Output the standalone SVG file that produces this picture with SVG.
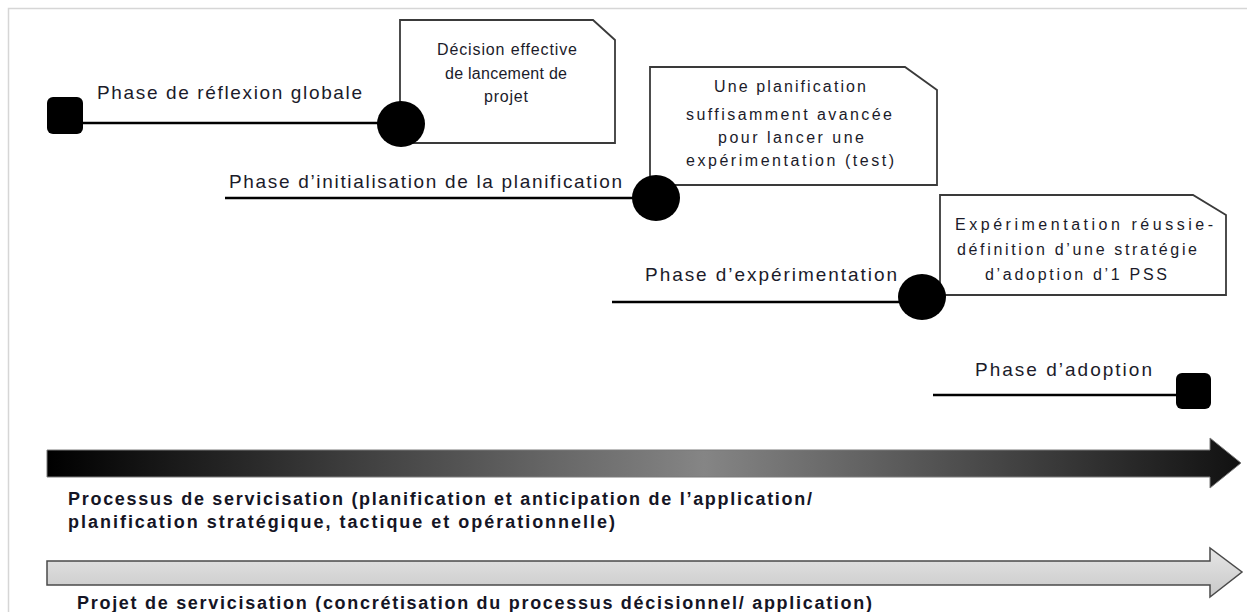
<svg xmlns="http://www.w3.org/2000/svg" width="1247" height="612" viewBox="0 0 1247 612">
<defs>
<style>
.t{font-family:"Liberation Sans",Arial,sans-serif;font-size:19px;fill:#1b1b2a}
.bt{font-family:"Liberation Sans",Arial,sans-serif;font-size:16px;fill:#1b1b2a}
.b{font-family:"Liberation Sans",Arial,sans-serif;font-size:18px;font-weight:bold;fill:#151525}
.ln{stroke:#000;stroke-width:2.5;fill:none}
.call{fill:#fff;stroke:#3a3a3a;stroke-width:1.8}
.dot{fill:#000}
.sq{fill:#000}
</style>
<linearGradient id="gDark" x1="0" y1="0" x2="1" y2="0">
<stop offset="0" stop-color="#000"/>
<stop offset="0.55" stop-color="#858585"/>
<stop offset="1" stop-color="#111"/>
</linearGradient>
<linearGradient id="gLight" x1="0" y1="0" x2="0" y2="1">
<stop offset="0" stop-color="#e6e6e6"/>
<stop offset="1" stop-color="#c8c8c8"/>
</linearGradient>
</defs>
<rect width="1247" height="612" fill="#fff"/>
<path d="M8.5 612 V8.5 H1247" fill="none" stroke="#d6d6d6" stroke-width="1.5"/>

<g id="connectors">
<line class="ln" x1="80" y1="123" x2="385" y2="123"/>
<line class="ln" x1="225" y1="198" x2="640" y2="198"/>
<line class="ln" x1="612" y1="302" x2="905" y2="302"/>
<line class="ln" x1="933" y1="395" x2="1180" y2="395"/>
</g>

<g id="phase-reflexion">
<rect class="sq" x="47" y="97" width="36" height="37" rx="6"/>
<text class="t" x="97" y="99" textLength="265" lengthAdjust="spacing">Phase de réflexion globale</text>
</g>

<g id="decision-lancement">
<path class="call" d="M400 20 H593 L615 40 V143 H400 Z"/>
<ellipse class="dot" cx="401" cy="124" rx="24" ry="23"/>
<text class="bt" x="437" y="55" textLength="140" lengthAdjust="spacing">Décision effective</text>
<text class="bt" x="445" y="79" textLength="122" lengthAdjust="spacing">de lancement de</text>
<text class="bt" x="484" y="102" textLength="44" lengthAdjust="spacing">projet</text>
</g>

<g id="phase-initialisation">
<text class="t" x="229" y="188" textLength="393" lengthAdjust="spacing">Phase d’initialisation de la planification</text>
</g>

<g id="planification-avancee">
<path class="call" d="M650 67 H905 L937 90 V185 H650 Z"/>
<ellipse class="dot" cx="656" cy="198" rx="24" ry="23"/>
<text class="bt" x="714" y="92" textLength="152" lengthAdjust="spacing">Une planification</text>
<text class="bt" x="686" y="120" textLength="206" lengthAdjust="spacing">suffisamment avancée</text>
<text class="bt" x="718" y="143" textLength="146" lengthAdjust="spacing">pour lancer une</text>
<text class="bt" x="686" y="166" textLength="208" lengthAdjust="spacing">expérimentation (test)</text>
</g>

<g id="phase-experimentation">
<text class="t" x="645" y="281" textLength="252" lengthAdjust="spacing">Phase d’expérimentation</text>
</g>

<g id="experimentation-reussie">
<path class="call" d="M940 195 H1193 L1226 215 V295 H940 Z"/>
<ellipse class="dot" cx="922" cy="297" rx="24" ry="23"/>
<text class="bt" x="955" y="230" textLength="258" lengthAdjust="spacing">Expérimentation réussie-</text>
<text class="bt" x="957" y="255" textLength="240" lengthAdjust="spacing">définition d’une stratégie</text>
<text class="bt" x="985" y="280" textLength="182" lengthAdjust="spacing">d’adoption d’1 PSS</text>
</g>

<g id="phase-adoption">
<text class="t" x="975" y="376" textLength="177" lengthAdjust="spacing">Phase d’adoption</text>
<rect class="sq" x="1176" y="373" width="35" height="36" rx="6"/>
</g>

<g id="processus">
<path d="M47 450 H1210 V438 L1241 463 L1210 488 V477 H47 Z" fill="url(#gDark)" stroke="#7a7a7a" stroke-width="1"/>
<text class="b" x="68" y="505" textLength="744" lengthAdjust="spacing">Processus de servicisation (planification et anticipation de l’application/</text>
<text class="b" x="68" y="528" textLength="547" lengthAdjust="spacing">planification stratégique, tactique et opérationnelle)</text>
</g>

<g id="projet">
<path d="M47 561 H1210 V548 L1242 572 L1210 597 V585 H47 Z" fill="url(#gLight)" stroke="#4a4a4a" stroke-width="1.5"/>
<text class="b" x="77" y="609" textLength="795" lengthAdjust="spacing">Projet de servicisation (concrétisation du processus décisionnel/ application)</text>
</g>
</svg>
